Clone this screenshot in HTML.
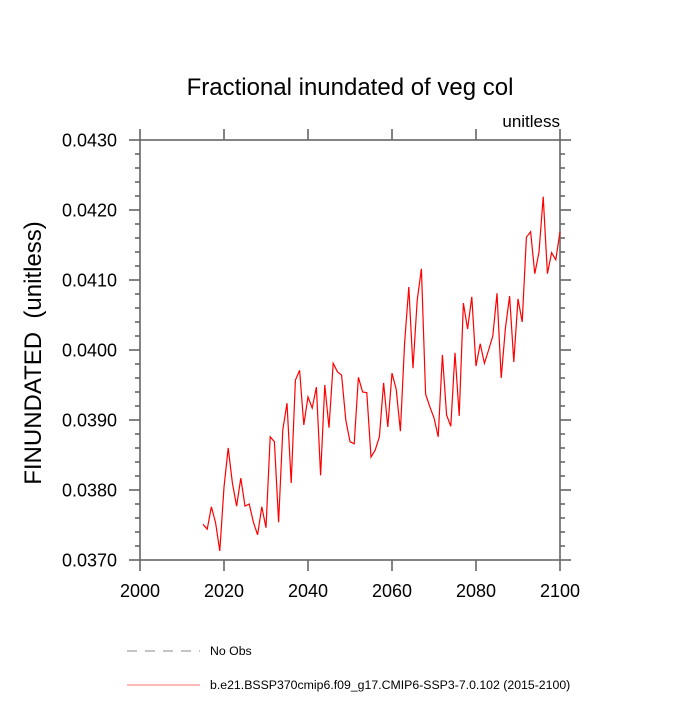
<!DOCTYPE html>
<html><head><meta charset="utf-8"><style>
body{margin:0;background:#fff;width:700px;height:700px;overflow:hidden}
svg text{font-family:"Liberation Sans",Arial,sans-serif}
</style></head><body>
<svg id="chart" width="700" height="700">
<text x="350" y="95" font-size="24" text-anchor="middle">Fractional inundated of veg col</text>
<text x="560" y="127" font-size="17" text-anchor="end">unitless</text>
<text transform="translate(41,353) rotate(-90)" font-size="24" text-anchor="middle">FINUNDATED&#160;&#160;(unitless)</text>
<g id="axes"></g>
<g id="series"></g>
<g>
<line x1="127" y1="651" x2="200" y2="651" stroke="#888" stroke-width="1" stroke-dasharray="10,8"/>
<text x="210" y="655" font-size="12.3">No Obs</text>
<line x1="127" y1="685" x2="200" y2="685" stroke="#f44" stroke-width="0.8"/>
<text x="210" y="689" font-size="12.3">b.e21.BSSP370cmip6.f09_g17.CMIP6-SSP3-7.0.102 (2015-2100)</text>
</g>
</svg>
<script>
const years=[];for(let y=2015;y<=2100;y++)years.push(y);
const values=[0.03751,0.03744,0.03776,0.03753,0.03713,0.03804,0.03860,0.03810,0.03777,0.03817,
0.03777,0.03780,0.03754,0.03736,0.03776,0.03746,0.03876,0.03869,0.03754,0.03886,
0.03924,0.03810,0.03957,0.03971,0.03893,0.03933,0.03917,0.03947,0.03821,0.03950,
0.03889,0.03981,0.03969,0.03964,0.03900,0.03869,0.03866,0.03961,0.03940,0.03939,
0.03847,0.03857,0.03876,0.03953,0.03890,0.03967,0.03944,0.03884,0.04010,0.04090,
0.03974,0.04071,0.04116,0.03937,0.03919,0.03903,0.03876,0.03993,0.03907,0.03891,
0.03996,0.03906,0.04067,0.04030,0.04076,0.03977,0.04009,0.03981,0.04000,0.04020,
0.04081,0.03960,0.04031,0.04077,0.03983,0.04073,0.04040,0.04161,0.04169,0.04109,
0.04140,0.04219,0.04109,0.04139,0.04129,0.04169];
const xTicks=[2000,2020,2040,2060,2080,2100];
const yTicks=[0.037,0.038,0.039,0.040,0.041,0.042,0.043];
const yLabels=["0.0370","0.0380","0.0390","0.0400","0.0410","0.0420","0.0430"];
const X0=140,X1=560,Y0=560,Y1=140;
const xs=v=>X0+(v-2000)/100*(X1-X0);
const ys=v=>Y0-(v-0.037)/0.006*(Y0-Y1);
const NS="http://www.w3.org/2000/svg";
const ax=document.getElementById('axes');
function ln(x1,y1,x2,y2,name){const l=document.createElementNS(NS,'line');
l.setAttribute('x1',x1);l.setAttribute('y1',y1);l.setAttribute('x2',x2);l.setAttribute('y2',y2);
l.setAttribute('stroke','#666');l.setAttribute('stroke-width','1.6');


ax.appendChild(l);}
const fr=document.createElementNS(NS,'rect');
fr.setAttribute('x',X0);fr.setAttribute('y',Y1);fr.setAttribute('width',X1-X0);fr.setAttribute('height',Y0-Y1);
fr.setAttribute('fill','none');fr.setAttribute('stroke','#666');fr.setAttribute('stroke-width','1.6');


ax.appendChild(fr);
for(let v=0.037;v<=0.04301;v+=0.0002){const y=ys(v);const major=Math.abs(v*1000-Math.round(v*1000))<1e-6;const L=major?11:5;
ln(X0-L,y,X0,y,'y-tick');ln(X1,y,X1+L,y,'y-tick-right');}
xTicks.forEach(v=>{const x=xs(v);ln(x,Y0,x,Y0+11,'x-tick');ln(x,Y1-11,x,Y1,'x-tick-top');});
xTicks.forEach(v=>{const t=document.createElementNS(NS,'text');t.setAttribute('x',xs(v));t.setAttribute('y',Y0+37);
t.setAttribute('font-size','18');t.setAttribute('text-anchor','middle');t.textContent=v;


ax.appendChild(t);});
yTicks.forEach((v,i)=>{const t=document.createElementNS(NS,'text');t.setAttribute('x',X0-23);t.setAttribute('y',ys(v)+6.5);
t.setAttribute('font-size','18');t.setAttribute('text-anchor','end');t.textContent=yLabels[i];


ax.appendChild(t);});
const p=document.createElementNS(NS,'polyline');
p.setAttribute('points',years.map((y,i)=>xs(y)+','+ys(values[i])).join(' '));
p.setAttribute('fill','none');p.setAttribute('stroke','red');p.setAttribute('stroke-width','1.2');


document.getElementById('series').appendChild(p);
</script>
</body></html>
